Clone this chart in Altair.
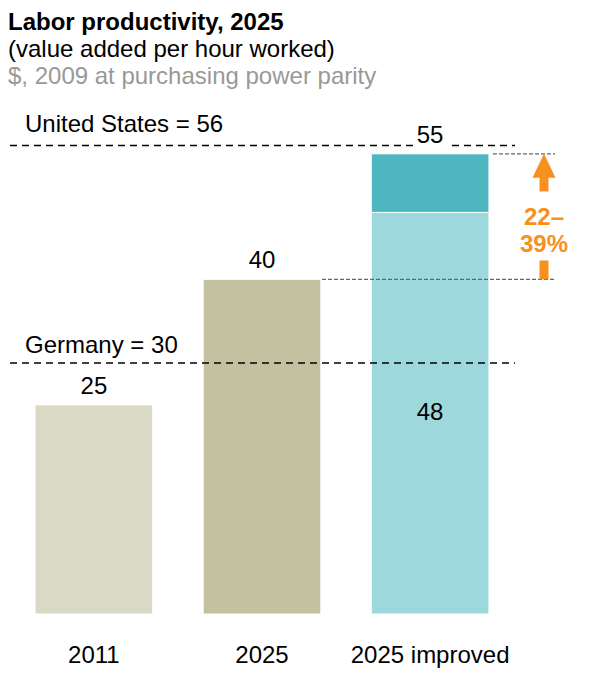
import altair as alt
import pandas as pd

# ---------------- data ----------------
categories = ["2011", "2025", "2025 improved"]

bar_cat = ["2011", "2025", "2025 improved", "2025 improved"]
bar_seg = ["2011", "2025", "improved base", "improved gain"]
bar_start = [0, 0, 0, 48]
bar_end = [25, 40, 48, 55]
bar_colors = ["#DAD9C5", "#C4C1A1", "#9DD8DC", "#4DB6C0"]

total_cat = ["2011", "2025", "2025 improved"]
total_val = [25, 40, 55]

inner_cat = ["2025 improved"]
inner_val = [48]

us_value = 56
germany_value = 30
range_low = 40
range_high = 55
range_text = ["22–", "39%"]

title_lines = ["Labor productivity, 2025",
               "(value added per hour worked)",
               "$, 2009 at purchasing power parity"]

FONT = "Liberation Sans"
ORANGE = "#F7901E"
FS = 24

yscale = alt.Scale(domain=[0, 60], nice=False, zero=True)
xscale = alt.Scale(domain=categories, paddingInner=0.3, paddingOuter=0.149)
xaxis = alt.Axis(title=None, domain=False, ticks=False, grid=False,
                 labelFontSize=FS, labelPadding=29, labelAngle=0,
                 labelColor="black", labelFont=FONT)

bars_df = pd.DataFrame({"cat": bar_cat, "seg": bar_seg,
                        "start": bar_start, "end": bar_end})
bars = alt.Chart(bars_df).mark_bar(stroke="white", strokeWidth=1).encode(
    x=alt.X("cat:N", scale=xscale, axis=xaxis, sort=categories),
    y=alt.Y("start:Q", scale=yscale, axis=None),
    y2="end:Q",
    color=alt.Color("seg:N", scale=alt.Scale(domain=bar_seg, range=bar_colors), legend=None),
)

tot_df = pd.DataFrame({"cat": total_cat, "val": total_val})
tot_labels = alt.Chart(tot_df).mark_text(
    fontSize=FS, baseline="alphabetic", dy=-11, color="black", font=FONT
).encode(
    x=alt.X("cat:N", scale=xscale, axis=xaxis, sort=categories),
    y=alt.Y("val:Q", scale=yscale, axis=None),
    text="val:Q",
)

inner_df = pd.DataFrame({"cat": inner_cat, "val": inner_val})
inner_df["mid"] = inner_df["val"] / 2
inner_labels = alt.Chart(inner_df).mark_text(
    fontSize=FS, baseline="middle", color="black", font=FONT
).encode(
    x=alt.X("cat:N", scale=xscale, axis=xaxis, sort=categories),
    y=alt.Y("mid:Q", scale=yscale, axis=None),
    text="val:Q",
)


def hrule(value, x1, x2, color, width, dash):
    return alt.Chart(pd.DataFrame({"v": [value]})).mark_rule(
        color=color, strokeWidth=width, strokeDash=dash
    ).encode(
        y=alt.Y("v:Q", scale=yscale, axis=None),
        x=alt.value(x1), x2=alt.value(x2),
    )


ref_dash = [7, 5]
us_rule_a = hrule(us_value, 0, 403, "black", 1.5, ref_dash)
us_rule_b = hrule(us_value, 442, 505, "black", 1.5, ref_dash)
de_rule = hrule(germany_value, 0, 505, "black", 1.5, ref_dash)
hi_rule = hrule(range_high, 483, 545, "#666666", 1.2, [4, 2])
lo_rule = hrule(range_low, 312, 545, "#666666", 1.2, [4, 2])


def ref_label(value, text, dy):
    return alt.Chart(pd.DataFrame({"v": [value], "t": [text]})).mark_text(
        fontSize=FS, align="left", baseline="alphabetic", dy=dy, color="black", font=FONT
    ).encode(
        y=alt.Y("v:Q", scale=yscale, axis=None),
        x=alt.value(15),
        text="t:N",
    )


us_label = ref_label(us_value, f"United States = {us_value}", -13)
de_label = ref_label(germany_value, f"Germany = {germany_value}", -10)

# arrow showing the range between 2025 and 2025 improved
span = range_high - range_low
shaft_df = pd.DataFrame({"y1": [range_high - 0.15 * span], "y2": [range_high - 0.3 * span]})
shaft = alt.Chart(shaft_df).mark_rule(color=ORANGE, strokeWidth=9, strokeCap="butt").encode(
    y=alt.Y("y1:Q", scale=yscale, axis=None), y2="y2:Q", x=alt.value(534)
)
stub_df = pd.DataFrame({"y1": [range_low], "y2": [range_low + 0.15 * span]})
stub = alt.Chart(stub_df).mark_rule(color=ORANGE, strokeWidth=9, strokeCap="butt").encode(
    y=alt.Y("y1:Q", scale=yscale, axis=None), y2="y2:Q", x=alt.value(534)
)
head = alt.Chart(pd.DataFrame({"v": [range_high]})).mark_point(
    shape="M-0.96,2L0.96,2L0,0Z", size=576, filled=True, color=ORANGE,
    opacity=1, strokeWidth=0
).encode(y=alt.Y("v:Q", scale=yscale, axis=None), x=alt.value(534))

range_lbl1 = alt.Chart(pd.DataFrame({"t": [range_text[0]]})).mark_text(
    fontSize=FS, fontWeight="bold", color=ORANGE, align="center", baseline="alphabetic", font=FONT
).encode(x=alt.value(534), y=alt.value(113), text="t:N")
range_lbl2 = alt.Chart(pd.DataFrame({"t": [range_text[1]]})).mark_text(
    fontSize=FS, fontWeight="bold", color=ORANGE, align="center", baseline="alphabetic", font=FONT
).encode(x=alt.value(534), y=alt.value(140), text="t:N")

# header lines
h1 = alt.Chart(pd.DataFrame({"t": [title_lines[0]]})).mark_text(
    fontSize=FS, fontWeight="bold", color="black", align="left", baseline="alphabetic", font=FONT
).encode(x=alt.value(-2), y=alt.value(-82), text="t:N")
h2 = alt.Chart(pd.DataFrame({"t": [title_lines[1]]})).mark_text(
    fontSize=FS, color="black", align="left", baseline="alphabetic", font=FONT
).encode(x=alt.value(-2), y=alt.value(-55), text="t:N")
h3 = alt.Chart(pd.DataFrame({"t": [title_lines[2]]})).mark_text(
    fontSize=FS, color="#999999", align="left", baseline="alphabetic", font=FONT
).encode(x=alt.value(-2), y=alt.value(-28), text="t:N")

chart = alt.layer(
    bars, lo_rule, hi_rule, de_rule, us_rule_a, us_rule_b,
    tot_labels, inner_labels, us_label, de_label,
    shaft, stub, head, range_lbl1, range_lbl2, h1, h2, h3,
).properties(
    width=504, height=502,
    padding={"left": 2, "top": 104, "right": 69, "bottom": 58},
    autosize="none",
).configure(font=FONT).configure_view(stroke=None)

chart.save("out.html", embed_options={"renderer": "svg", "actions": False})
